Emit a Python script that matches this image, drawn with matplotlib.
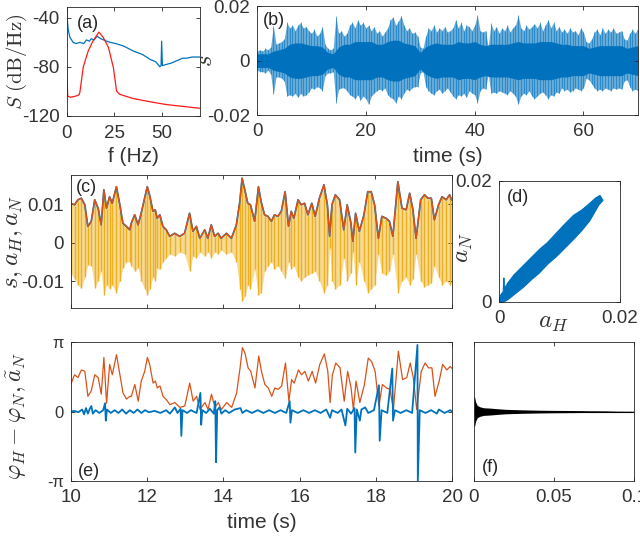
import numpy as np
import matplotlib
matplotlib.use('Agg')
import matplotlib.pyplot as plt

plt.rcParams['font.family'] = ['Liberation Sans', 'DejaVu Sans']
plt.rcParams['mathtext.fontset'] = 'cm'
plt.rcParams['xtick.direction'] = 'in'
plt.rcParams['ytick.direction'] = 'in'
plt.rcParams['xtick.top'] = True
plt.rcParams['ytick.right'] = True
plt.rcParams['xtick.major.size'] = 3
plt.rcParams['ytick.major.size'] = 3
plt.rcParams['xtick.major.width'] = 0.6
plt.rcParams['ytick.major.width'] = 0.6
plt.rcParams['xtick.major.pad'] = 6
plt.rcParams['ytick.major.pad'] = 5
plt.rcParams['axes.linewidth'] = 0.6
plt.rcParams['axes.edgecolor'] = '#262626'
plt.rcParams['xtick.color'] = '#262626'
plt.rcParams['ytick.color'] = '#262626'
plt.rcParams['xtick.labelcolor'] = '#333333'
plt.rcParams['ytick.labelcolor'] = '#333333'
plt.rcParams['axes.labelcolor'] = '#333333'
plt.rcParams['text.color'] = '#262626'
plt.rcParams['xtick.labelsize'] = 13.5
plt.rcParams['ytick.labelsize'] = 13.5

BLUE = '#0072BD'
ORANGE = '#D95319'
YELLOW = '#EDB120'

# ---------------- (a) power spectra ----------------
fa_blue = [0, 0.4, 0.9, 1.8, 3.5, 5, 7, 9, 10.5, 12, 13, 14.5, 16, 18, 21, 23, 26, 30, 35,
           40, 44, 47, 49, 49.7, 50, 50.4, 52.6, 55, 58, 61, 63, 66, 70]
Sa_blue = [-31, -42, -50, -56, -60, -61, -60, -61, -58, -59, -57, -58, -55, -57, -59, -60, -61, -63, -67,
           -70, -74, -76, -80, -79, -59, -79, -78, -77, -75, -73, -73, -72, -72]
fa_red = [0, 0.6, 2, 5, 6.5, 7, 8.8, 11.4, 14, 17, 19.3, 22, 24.6, 26.3, 28, 35, 44, 52.6, 70]
Sa_red = [-80, -104, -105, -104, -103, -101, -80, -67, -58.5, -51.6, -56, -64, -80.5, -100, -102.6,
          -106, -108.7, -111, -114]

# ---------------- (b) signal envelope (units 1e-3), 0.5 s grid ----------------
tb_step = 0.5
up_b = [3.5, 4, 3.5, 4.5, 4, 5, 12.8, 6, 6.5, 7,
        8, 14, 12, 13, 11, 13, 14, 12, 12.5, 11,
        10, 11.5, 9, 10, 12.5, 6, 4.5, 4, 4.5, 16.3,
        10, 11, 9, 10, 13, 14, 12, 15, 13, 14,
        12, 13, 11, 12.5, 10, 11, 9, 10.5, 12, 15,
        16, 13, 14.5, 16.5, 13, 11, 12, 10, 10.5, 9,
        5, 4.5, 9, 12, 11, 13, 10.5, 12, 11, 12.5,
        10.5, 11, 12, 15, 12, 14, 11, 13, 12.5, 11,
        13, 16.7, 11, 10.5, 11, 5, 13.7, 11, 12.5, 10,
        12, 11, 13, 10.5, 12, 13, 16.7, 12, 11, 13,
        11.5, 12.5, 13.5, 12, 14, 11, 13, 15, 12, 14,
        11, 12.5, 10.5, 11.5, 10, 12, 10.5, 11, 9.5, 12,
        10.5, 7, 6.5, 8, 10.5, 11.5, 9.5, 12, 10, 11.5,
        10.5, 12, 10, 10.5, 11, 8, 7.5, 10, 11.5, 10,
        12]
lo_b = [3.5, 4, 4, 4.5, 3.5, 5, 12.4, 6, 6, 6.5,
        7.5, 13, 12.5, 13, 12, 13.5, 12, 13, 12.5, 11.5,
        10, 10.5, 9.5, 10, 11, 5.5, 4.5, 4.5, 4, 15.4,
        10.5, 10, 10, 11, 12.5, 13, 14, 12.5, 14.5, 13,
        14, 16, 13, 12, 11, 10.5, 11, 10, 12.5, 13.5,
        14, 15.5, 13, 14, 12, 10.5, 11, 10, 9.5, 9.5,
        4.5, 4, 9.5, 11, 12, 12.5, 11, 10.5, 12, 11,
        10, 11.5, 13, 14, 12.5, 13, 12, 13.5, 11, 12,
        12.5, 15.5, 11, 10, 10.5, 5, 12, 11.5, 12, 11,
        11.5, 12, 12.5, 11, 12, 13, 16, 13, 12, 12.5,
        11, 13, 14, 13, 12, 11.5, 12.5, 14, 12.5, 13,
        11.5, 12, 10, 11, 10.5, 11.5, 11, 10, 10.5, 11,
        10, 6.5, 7, 8.5, 10, 11, 10.5, 11, 10, 10.5,
        11, 10, 10.5, 10, 10.5, 7.5, 7, 9.5, 11, 10.5,
        11]
core_b = [2.5, 2.5, 2.5, 3.5, 4, 4.5, 6, 6.5, 6.5, 6,
          5.5, 5.5, 5, 3, 2.5, 5, 6, 6, 7, 7,
          7, 7, 6, 6, 7, 7.5, 7.5, 6.5, 6, 5.5,
          3, 5, 6, 6.5, 6, 6, 6, 7, 6.5, 6.5,
          7, 6, 5.5, 6, 6, 6, 6, 6.5, 7, 6.5,
          6.5, 6.5, 7, 7, 7, 6.5, 6, 6, 5.5, 5.5,
          5.5, 4.5, 5, 5.5, 5.5, 5.5, 5.5, 5.5, 4.5, 5,
          5.5]

# ---------------- (c)/(e) 10-20 s ----------------
t_ce = [10.0, 10.1, 10.19, 10.28, 10.37, 10.45, 10.54, 10.63, 10.72, 10.8,
        10.87, 10.94, 11.02, 11.09, 11.2, 11.29, 11.37, 11.46, 11.55, 11.59,
        11.68, 11.77, 11.85, 11.94, 12.01, 12.07, 12.16, 12.22, 12.27, 12.34,
        12.42, 12.51, 12.6, 12.73, 12.86, 12.99, 13.12, 13.21, 13.3, 13.39,
        13.52, 13.6, 13.69, 13.78, 13.87, 13.95, 14.09, 14.22, 14.35, 14.44,
        14.5, 14.57, 14.65, 14.72, 14.83, 14.93, 15.0, 15.09, 15.18, 15.27,
        15.35, 15.44, 15.53, 15.63, 15.72, 15.79, 15.86, 15.97, 16.05, 16.14,
        16.23, 16.33, 16.42, 16.53, 16.65, 16.74, 16.8, 16.86, 16.95, 17.06,
        17.17, 17.26, 17.35, 17.41, 17.48, 17.58, 17.7, 17.8, 17.89, 17.98,
        18.08, 18.17, 18.28, 18.37, 18.46, 18.59, 18.7, 18.81, 18.9, 18.98,
        19.07, 19.19, 19.29, 19.38, 19.47, 19.55, 19.66, 19.75, 19.86, 19.95,
        20.0]
aH_c = [10.2, 9.8, 11.1, 11.5, 9.8, 4.2, 5.5, 11.1, 8.9, 4.6,
        13.7, 8.9, 11.9, 10.2, 14.5, 9.8, 5.0, 4.2, 3.3, 5.0,
        7.2, 4.6, 7.6, 11.5, 14.5, 12.4, 8.1, 8.5, 6.3, 7.2,
        4.2, 3.3, 1.6, 2.4, 1.6, 2.4, 7.6, 2.9, 4.2, 1.1,
        3.3, 1.1, 4.6, 1.6, 2.4, 1.1, 2.4, 1.1, 4.6, 10.6,
        16.7, 13.7, 10.2, 9.8, 5.5, 14.5, 10.6, 7.2, 6.8, 5.5,
        7.2, 6.8, 8.1, 13.2, 4.2, 8.1, 6.3, 11.1, 9.8, 10.2,
        7.2, 10.2, 6.8, 11.5, 15.0, 9.8, 1.6, 9.8, 12.4, 11.1,
        3.3, 9.8, 5.5, 0.3, 7.6, 2.9, 7.2, 13.2, 13.2, 9.8,
        1.1, 6.8, 6.3, 5.5, 1.6, 15.8, 8.9, 8.5, 12.8, 8.9,
        1.1, 11.1, 12.4, 11.5, 11.5, 5.9, 9.8, 11.9, 11.1, 12.4,
        11.1]
aN_c = list(aH_c)
sneg_c = [8, 9.5, 11, 11.9, 9, 5.8, 6, 11.9, 10, 7.5,
          13.6, 11, 12, 11, 13, 10, 6.7, 5, 5, 6,
          7.5, 6.5, 10, 12, 13.6, 12, 9, 10, 6.7, 7,
          5, 4, 3, 3.5, 2.5, 3, 7.5, 3.5, 4, 2.5,
          3.5, 2.5, 4, 2.5, 3, 2, 3, 2.5, 5, 12,
          15.3, 14, 11, 12, 7, 13.6, 13, 7.5, 6, 5,
          7, 6, 7.5, 9.3, 5, 7, 6, 9, 10, 9,
          8.4, 8, 7.5, 10, 13.2, 11, 1.5, 10, 12, 11,
          4, 10, 8, 2.5, 11, 5, 10, 13, 12, 11,
          3, 8, 8.5, 7.5, 3, 13, 10, 9, 11, 9.5,
          3, 10, 11.5, 11, 10.5, 6, 9, 11, 10, 11,
          10.5]
aNt_e = [0.39, 0.53, 0.49, 0.60, 0.58, 0.22, 0.30, 0.53, 0.49, 0.25,
         0.78, 0.12, 0.68, 0.53, 0.82, 0.53, 0.27, 0.18, 0.22, 0.22,
         0.39, 0.15, 0.44, 0.58, 0.78, 0.68, 0.41, 0.44, 0.34, 0.37,
         0.22, 0.17, 0.10, 0.13, 0.06, 0.08, 0.41, 0.15, 0.22, 0.03,
         0.13, 0.03, 0.25, 0.06, 0.13, 0.03, 0.13, 0.06, 0.27, 0.63,
         0.92, 0.84, 0.63, 0.58, 0.34, 0.80, 0.58, 0.39, 0.34, 0.22,
         0.34, 0.32, 0.37, 0.70, 0.15, 0.46, 0.41, 0.60, 0.53, 0.58,
         0.44, 0.58, 0.41, 0.68, 0.83, 0.58, 0.13, 0.53, 0.70, 0.63,
         0.15, 0.58, 0.34, 0.03, 0.44, 0.13, 0.39, 0.77, 0.72, 0.58,
         0.08, 0.39, 0.34, 0.32, 0.03, 0.87, 0.46, 0.49, 0.70, 0.49,
         0.03, 0.58, 0.70, 0.63, 0.63, 0.22, 0.44, 0.68, 0.60, 0.65,
         0.62]
t_phi = [10.0, 10.1, 10.2, 10.3, 10.35, 10.4, 10.45, 10.5, 10.54, 10.58,
         10.65, 10.75, 10.85, 10.9, 10.92, 10.95, 11.05, 11.15, 11.25, 11.35,
         11.45, 11.55, 11.65, 11.75, 11.85, 11.95, 12.05, 12.2, 12.35, 12.5,
         12.6, 12.73, 12.8, 12.88, 12.9, 12.93, 13.05, 13.15, 13.3, 13.4,
         13.42, 13.45, 13.55, 13.65, 13.75, 13.79, 13.81, 13.84, 13.9, 13.95,
         14.05, 14.15, 14.3, 14.45, 14.5, 14.6, 14.75, 14.9, 15.05, 15.2,
         15.35, 15.5, 15.65, 15.74, 15.76, 15.8, 15.95, 16.1, 16.25, 16.4,
         16.55, 16.7, 16.8, 16.85, 17.0, 17.1, 17.2, 17.25, 17.35, 17.44,
         17.46, 17.5, 17.58, 17.62, 17.72, 17.8, 17.95, 18.08, 18.1, 18.15,
         18.3, 18.43, 18.45, 18.5, 18.65, 18.8, 18.95, 19.09, 19.1, 19.15,
         19.3, 19.45, 19.6, 19.65, 19.8, 19.95, 20.0]
phi_e = [0.0, 0.01, -0.01, 0.03, -0.04, 0.05, -0.03, 0.04, 0.08, -0.03,
         0.02, -0.02, 0.02, 0.12, -0.13, 0.03, -0.02, 0.02, -0.02, 0.03,
         -0.03, 0.02, -0.02, 0.03, -0.02, 0.02, -0.01, 0.01, -0.02, 0.02,
         -0.03, 0.06, -0.02, 0.04, -0.35, 0.02, -0.02, 0.02, -0.02, 0.27,
         -0.19, 0.02, -0.02, 0.04, -0.03, 0.15, -0.73, 0.02, 0.06, -0.03,
         0.02, -0.02, 0.03, 0.05, -0.02, 0.02, -0.02, 0.02, -0.02, 0.02,
         -0.02, 0.02, -0.02, 0.15, -0.16, 0.02, -0.02, 0.02, -0.02, 0.02,
         -0.02, 0.03, -0.09, 0.02, -0.02, 0.03, -0.2, 0.04, -0.03, 0.05,
         -0.59, 0.03, -0.13, 0.03, 0.06, -0.02, 0.02, 0.38, -0.42, 0.02,
         -0.02, 0.62, -0.13, 0.02, -0.02, 0.02, -0.02, 0.96, -1.0, 0.02,
         -0.02, 0.02, -0.03, 0.03, -0.02, 0.02, 0.0]

# ---------------- (d) a_N vs a_H band outline ----------------
dH_band = [0.0, 0.0003, 0.0007, 0.0008, 0.0009, 0.0015, 0.0025, 0.004, 0.0055, 0.0067, 0.008,
           0.0095, 0.011, 0.0123, 0.0137, 0.015, 0.016, 0.0167,
           0.0172, 0.0165, 0.015, 0.0137, 0.0123, 0.011, 0.0095, 0.008, 0.0067, 0.0055,
           0.004, 0.0025, 0.0015, 0.0008, 0.0]
dN_band = [0.0003, 0.0012, 0.0017, 0.0040, 0.0022, 0.0032, 0.0045, 0.006, 0.0075, 0.0087, 0.0098,
           0.0114, 0.013, 0.0143, 0.0152, 0.0163, 0.0172, 0.0176,
           0.0168, 0.016, 0.0134, 0.0118, 0.0103, 0.009, 0.0075, 0.0062, 0.0048, 0.0038,
           0.0024, 0.0012, 0.0004, 0.0, 0.0]

# ---------------- (f) decaying response ----------------
x_f = [0, 0.0005, 0.001, 0.002, 0.0035, 0.006, 0.01, 0.015, 0.02, 0.03, 0.04, 0.05, 0.062,
       0.072, 0.083, 0.09, 0.1]
env_f = [0.22, 0.2, 0.14, 0.09, 0.07, 0.055, 0.05, 0.04, 0.032, 0.025, 0.02, 0.017, 0.015,
         0.012, 0.01, 0.006, 0.005]

fig = plt.figure(figsize=(6.4, 5.38), dpi=100)

def label(ax, s, x, y):
    ax.text(x, y, s, transform=ax.transAxes, fontsize=13, va='center', ha='left')

# (a)
axa = fig.add_axes([0.104, 0.784, 0.208, 0.203])
axa.plot(fa_blue, Sa_blue, color=BLUE, lw=0.9)
axa.plot(fa_red, Sa_red, color='#FF1A1A', lw=0.9)
axa.set_xlim(0, 70)
axa.set_ylim(-120.5, -31)
axa.set_xticks([0, 25, 50])
axa.set_yticks([-120, -80, -40])
axa.set_yticklabels(['-120', '-80', '-40'])
axa.set_ylabel(r'$S\ \mathrm{(dB/Hz)}$', fontsize=15)
axa.yaxis.set_label_coords(-0.285, 0.5)
axa.set_xlabel('f (Hz)', fontsize=15)
axa.xaxis.set_label_coords(0.5, -0.28)
label(axa, '(a)', 0.075, 0.85)

# (b)
axb = fig.add_axes([0.4016, 0.786, 0.595, 0.2026])
tb = np.arange(len(up_b)) * tb_step
tc = np.arange(len(core_b)) * 1.0
up = np.array(up_b) * 1e-3
lo = -np.array(lo_b) * 1e-3
core = np.array(core_b) * 1e-3
axb.fill_between(tb, lo, up, color=BLUE, alpha=0.6, lw=0)
axb.vlines(tb, lo, up, color=BLUE, lw=0.5, alpha=0.8)
axb.fill_between(tc, -core, core, color=BLUE, lw=0)
axb.set_xlim(0, 70)
axb.set_ylim(-0.02, 0.02)
axb.set_xticks([0, 20, 40, 60])
axb.set_yticks([-0.02, 0, 0.02])
axb.set_yticklabels(['-0.02', '0', '0.02'])
axb.set_ylabel(r'$s$', fontsize=18)
axb.yaxis.set_label_coords(-0.105, 0.5)
axb.set_xlabel('time (s)', fontsize=15)
axb.xaxis.set_label_coords(0.5, -0.29)
label(axb, '(b)', 0.015, 0.87)

# (c)
axc = fig.add_axes([0.1105, 0.4275, 0.595, 0.247])
t_c = np.array(t_ce)
aH = np.array(aH_c) * 1e-3
aN = np.array(aN_c) * 1e-3
sn = -np.array(sneg_c) * 1e-3
axc.fill_between(t_c, sn, aH, color='#F6DA95', lw=0)
axc.vlines(t_c, sn, aH * 0.97, color=YELLOW, lw=1.0)
axc.plot(t_c, aH, color=BLUE, lw=1.2)
axc.plot(t_c, aN, color=ORANGE, lw=1.0)
axc.set_xlim(10, 20)
axc.set_ylim(-0.017, 0.0175)
axc.set_xticks([10, 12, 14, 16, 18, 20])
axc.set_xticklabels([])
axc.set_yticks([-0.01, 0, 0.01])
axc.set_yticklabels(['-0.01', '0', '0.01'])
axc.set_ylabel(r'$s,a_H,a_N$', fontsize=18)
axc.yaxis.set_label_coords(-0.12, 0.5)
label(axc, '(c)', 0.014, 0.91)

# (d)
axd = fig.add_axes([0.7797, 0.4387, 0.189, 0.225])
axd.fill(dH_band, dN_band, color=BLUE, lw=0.8, ec=BLUE)
axd.plot(aH, aN, color=BLUE, lw=0.8)
axd.set_xlim(0, 0.02)
axd.set_ylim(0, 0.02)
axd.set_xticks([0, 0.02])
axd.set_yticks([0, 0.02])
axd.set_xticklabels(['0', '0.02'])
axd.set_yticklabels(['0', '0.02'])
axd.set_ylabel(r'$a_N$', fontsize=18)
axd.yaxis.set_label_coords(-0.2, 0.45)
axd.set_xlabel(r'$a_H$', fontsize=18)
axd.xaxis.set_label_coords(0.45, -0.07)
label(axd, '(d)', 0.065, 0.86)

# (e)
axe = fig.add_axes([0.1105, 0.106, 0.596, 0.258])
axe.plot(t_c, np.array(aNt_e) * np.pi, color=ORANGE, lw=0.9)
axe.plot(t_phi, np.array(phi_e) * np.pi, color=BLUE, lw=1.3)
axe.set_xlim(10, 20)
axe.set_ylim(-np.pi, np.pi)
axe.set_xticks([10, 12, 14, 16, 18, 20])
axe.set_yticks([-np.pi, 0, np.pi])
axe.set_yticklabels(['-π', '0', 'π'], fontsize=12)
axe.set_ylabel(r'$\varphi_H-\varphi_N,\tilde{a}_N$', fontsize=17)
axe.yaxis.set_label_coords(-0.11, 0.47)
axe.set_xlabel('time (s)', fontsize=15)
axe.xaxis.set_label_coords(0.5, -0.23)
label(axe, '(e)', 0.02, 0.07)

# (f)
axf = fig.add_axes([0.7406, 0.106, 0.25, 0.258])
ef = np.array(env_f)
axf.fill_between(x_f, -ef, ef, color='black', lw=0)
axf.plot(x_f, np.zeros(len(x_f)), color='black', lw=0.8)
axf.set_xlim(0, 0.1)
axf.set_ylim(-1, 1)
axf.set_xticks([0, 0.05, 0.1])
axf.set_xticklabels(['0', '0.05', '0.1'])
axf.set_yticks([])
label(axf, '(f)', 0.05, 0.095)

fig.savefig('out.png', dpi=100)
